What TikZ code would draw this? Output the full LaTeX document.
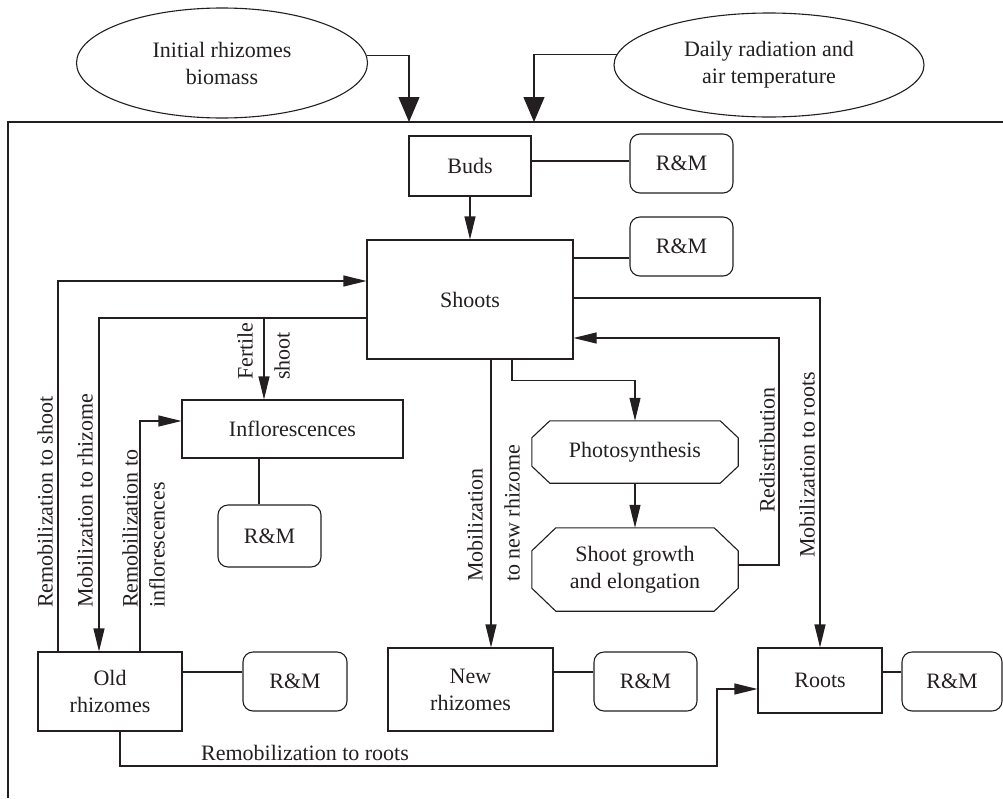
\documentclass[tikz,border=0pt]{standalone}
\usepackage{fontspec}
\setmainfont{Liberation Serif}
\usetikzlibrary{shapes.geometric,arrows.meta}
\definecolor{ink}{RGB}{35,31,32}
\begin{document}
\begin{tikzpicture}[x=1pt,y=-1pt,
  every node/.style={font=\fontsize{22}{27}\selectfont, text=ink},
  line/.style={draw=ink, line width=1.1pt},
  arr/.style={line, -{Triangle[length=23pt,width=11pt]}},
  bigarr/.style={line, -{Triangle[length=25pt,width=21pt]}},
  box/.style={draw=ink, line width=1.1pt, rectangle, inner sep=0pt, align=center},
  rmbox/.style={box, rounded corners=10pt, minimum width=103pt, minimum height=59pt},
  oval/.style={draw=ink, line width=1.1pt, ellipse, inner sep=0pt, align=center},
  octo/.style={inner sep=0pt, align=center},
  vlbl/.style={rotate=90, inner sep=0pt, anchor=west, align=left}]
\useasboundingbox (0,0) rectangle (1003,798);

% frame
\draw[line] (1003,122) -- (8,122) -- (8,798);

% input ellipses
\node[oval, minimum width=291pt, minimum height=110pt] (e1) at (222,63) {Initial rhizomes\\biomass};
\node[oval, minimum width=310pt, minimum height=104pt] (e2) at (769,65) {Daily radiation and\\air temperature};
\coordinate (t1) at (409,122);
\coordinate (t2) at (534,122);
\draw[bigarr] (e1.3) -| (t1);
\draw[bigarr] (e2.176) -| (t2);

% boxes
\node[box, minimum width=122pt, minimum height=60pt] (buds) at (470,166) {Buds};
\node[rmbox] (rm1) at (681.5,163.5) {R\&M};
\node[box, minimum width=206pt, minimum height=119pt] (shoots) at (470,299.5) {Shoots};
\node[rmbox] (rm2) at (681.5,246.5) {R\&M};
\node[box, minimum width=221pt, minimum height=58pt] (infl) at (292.5,429) {Inflorescences};
\node[rmbox, minimum height=62pt] (rm3) at (269.5,536) {R\&M};
\node[octo, minimum width=206pt, minimum height=62pt] (photo) at (635,452) {Photosynthesis};
\node[octo, minimum width=206pt, minimum height=83pt] (growth) at (635,569.5) {Shoot growth\\and elongation};
\node[box, minimum width=144pt, minimum height=79pt] (old) at (110,691.5) {Old\\rhizomes};
\node[rmbox, minimum width=104pt] (rm4) at (295,681.5) {R\&M};
\node[box, minimum width=165pt, minimum height=83pt] (newr) at (470.5,689.5) {New\\rhizomes};
\node[rmbox] (rm5) at (645.5,681.5) {R\&M};
\node[box, minimum width=124pt, minimum height=65pt] (roots) at (820,680.5) {Roots};
\node[rmbox, minimum width=100pt] (rm6) at (952,681.5) {R\&M};

% octagon outlines
\draw[line] ([xshift=18pt]photo.north west) -- ([xshift=-18pt]photo.north east) -- ([yshift=-17pt]photo.north east) -- ([yshift=17pt]photo.south east) -- ([xshift=-18pt]photo.south east) -- ([xshift=18pt]photo.south west) -- ([yshift=17pt]photo.south west) -- ([yshift=-17pt]photo.north west) -- cycle;
\draw[line] ([xshift=24pt]growth.north west) -- ([xshift=-24pt]growth.north east) -- ([yshift=-23pt]growth.north east) -- ([yshift=23pt]growth.south east) -- ([xshift=-24pt]growth.south east) -- ([xshift=24pt]growth.south west) -- ([yshift=23pt]growth.south west) -- ([yshift=-23pt]growth.north west) -- cycle;

% R&M links
\path ([yshift=2.5pt]rm1.west) coordinate (a1);
\draw[line] (a1) -- (a1 -| buds.east);
\path ([yshift=-11.5pt]rm2.west) coordinate (a2);
\draw[line] (a2) -- (a2 -| shoots.east);
\path ([xshift=-33.5pt]infl.south) coordinate (a3);
\draw[line] (a3) -- (a3 |- rm3.north);
\path ([yshift=9.5pt]rm4.west) coordinate (a4);
\draw[line] (a4) -- (a4 -| old.east);
\path ([yshift=9.5pt]rm5.west) coordinate (a5);
\draw[line] (a5) -- (a5 -| newr.east);
\path ([yshift=9.5pt]rm6.west) coordinate (a6);
\draw[line] (a6) -- (a6 -| roots.east);

% flows
\draw[arr] (buds.south) -- (shoots.north);
\draw[arr] ([xshift=-52pt]old.north) |- ([yshift=18.5pt]shoots.west);
\path ([yshift=-18.5pt]shoots.west) coordinate (mobr);
\draw[arr] (mobr) -| ([xshift=-11pt]old.north);
\path ([xshift=-28.5pt]infl.north) coordinate (fsin);
\draw[arr] (fsin |- mobr) -- (fsin);
\draw[arr] ([xshift=30pt]old.north) |- ([yshift=8pt]infl.west);
\path ([xshift=21pt]shoots.south) coordinate (nr);
\draw[arr] (nr) -- (nr |- newr.north);
\draw[arr] ([xshift=42pt]shoots.south) -- ++(0,21) -| (photo.north);
\draw[arr] (photo.south) -- (growth.north);
\coordinate (redc) at (779,338);
\draw[arr] ([yshift=4.5pt]growth.east) -| (redc) -- (redc -| shoots.east);
\draw[arr] ([yshift=1.5pt]shoots.east) -| (roots.north);
\coordinate (rr) at (717,766);
\draw[arr] ([xshift=10pt]old.south) |- (rr) |- ([yshift=-8.5pt]roots.west);

% labels
\node[vlbl] (l1) at (45,608) {Remobilization to shoot};
\node[vlbl] (l2) at (85,608) {Mobilization to rhizome};
\node[vlbl] (l3) at (143.5,608) {Remobilization to\\inflorescences};
\node[vlbl] (l4) at (245,380) {Fertile};
\node[vlbl] (l5) at (282,380) {shoot};
\node[vlbl] (l6) at (475,582) {Mobilization};
\node[vlbl] (l7) at (512,582) {to new rhizome};
\node[rotate=90, inner sep=0pt] (l8) at (767,450) {Redistribution};
\node[rotate=90, inner sep=0pt] (l9) at (807,465) {Mobilization to roots};
\node[inner sep=0pt] (l10) at (305,753) {Remobilization to roots};
\end{tikzpicture}
\end{document}
